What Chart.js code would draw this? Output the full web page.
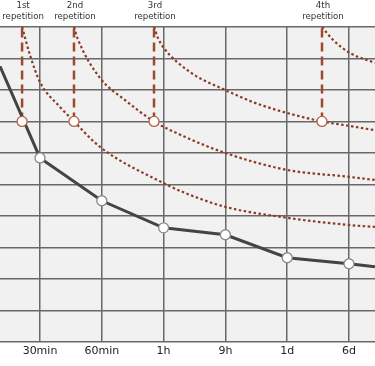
<!DOCTYPE html>
<html>
<head>
<meta charset="utf-8">
<script src="https://cdn.jsdelivr.net/npm/chart.js@4"></script>
<style>
  html, body { margin: 0; padding: 0; background: #fff; }
  #wrap { width: 375px; height: 366px; position: relative; }
</style>
</head>
<body>
<div id="wrap"><canvas id="curve"></canvas></div>
<script>
// time axis labels (one per gridline)
const tickLabels = ['30min', '60min', '1h', '9h', '1d', '6d'];

// repetitions: where they happen on the time axis and at what retention
const repLabels = ['1st', '2nd', '3rd', '4th'];
const repTimes = [0.71, 1.55, 2.845, 5.563];
const repLevel = 70;

// forgetting curve without repetition
const baseX = [0.353, 1, 2, 3, 4, 5, 6, 6.42];
const baseY = [87.5, 58.4, 44.8, 36.2, 34.0, 26.7, 24.8, 23.8];

// curves after each repetition
const rep1X = [0.71, 0.838, 1.0, 1.324, 1.55, 1.971, 2.99, 3.346, 3.994, 4.997, 6.0, 6.42];
const rep1Y = [100, 91.1, 82.5, 74.6, 70, 61.9, 50.5, 47.3, 42.9, 39.4, 37.1, 36.5];
const rep2X = [1.55, 1.615, 1.971, 2.375, 2.845, 3.346, 3.994, 4.997, 6.0, 6.42];
const rep2Y = [100, 96, 83.8, 76.8, 70, 65.1, 60, 54.6, 52.4, 51.4];
const rep3X = [2.845, 2.909, 2.99, 3.427, 3.994, 4.479, 4.997, 5.563, 6.0, 6.42];
const rep3Y = [100, 96.5, 93.7, 85.7, 80, 75.9, 72.7, 70, 68.6, 67.2];
const rep4X = [5.563, 5.741, 6.02, 6.42];
const rep4Y = [100, 95.9, 91.7, 88.6];

const toPts = (xs, ys) => xs.map((x, i) => ({ x: x, y: ys[i] }));

const dotColor = '#8a3b24';
const dashColor = '#9c4a2e';

const datasets = [];

// repetition markers (on top)
datasets.push({
    data: repTimes.map(t => ({ x: t, y: repLevel })),
    showLine: false,
    pointRadius: 5,
    pointBackgroundColor: '#fff',
    pointBorderColor: '#b06048',
    pointBorderWidth: 1.3,
    order: 0
});

// base curve
datasets.push({
    data: toPts(baseX, baseY),
    borderColor: '#444',
    borderWidth: 3,
    pointRadius: baseX.map((x, i) => (i === 0 || i === baseX.length - 1) ? 0 : 5),
    pointBackgroundColor: '#fff',
    pointBorderColor: '#8a8a8a',
    pointBorderWidth: 1.3,
    order: 1
});

// vertical dashed lines at each repetition
repTimes.forEach(t => {
    datasets.push({
        data: [{ x: t, y: repLevel }, { x: t, y: 100 }],
        borderColor: dashColor,
        borderWidth: 2.5,
        borderDash: [9, 5],
        pointRadius: 0,
        order: 2
    });
});

// dotted decay curves
[[rep1X, rep1Y], [rep2X, rep2Y], [rep3X, rep3Y], [rep4X, rep4Y]].forEach(([xs, ys]) => {
    datasets.push({
        data: toPts(xs, ys),
        borderColor: dotColor,
        borderWidth: 2.2,
        borderDash: [2.5, 2.5],
        pointRadius: 0,
        cubicInterpolationMode: 'monotone',
        order: 3
    });
});

const plotBg = {
    id: 'plotBg',
    beforeDraw(chart) {
        const { ctx, chartArea: a } = chart;
        ctx.save();
        ctx.fillStyle = '#f1f1f1';
        ctx.fillRect(a.left, a.top, a.right - a.left, a.bottom - a.top);
        ctx.restore();
    }
};

const repText = {
    id: 'repText',
    afterDraw(chart) {
        const { ctx } = chart;
        const xs = chart.scales.x;
        ctx.save();
        ctx.font = '8.6px "DejaVu Sans"';
        ctx.fillStyle = '#333';
        ctx.textAlign = 'center';
        ctx.textBaseline = 'middle';
        repTimes.forEach((t, i) => {
            const px = xs.getPixelForValue(t) + 1;
            ctx.fillText(repLabels[i], px, 6);
            ctx.fillText('repetition', px, 17);
        });
        ctx.restore();
    }
};

new Chart(document.getElementById('curve').getContext('2d'), {
    type: 'line',
    data: { datasets: datasets },
    options: {
        responsive: true,
        maintainAspectRatio: false,
        animation: false,
        layout: { autoPadding: false, padding: { top: 27, bottom: 5, left: 0, right: 0 } },
        plugins: { legend: { display: false }, tooltip: { enabled: false } },
        scales: {
            x: {
                type: 'linear',
                min: 0.3528,
                max: 6.4207,
                afterBuildTicks: s => { s.ticks = tickLabels.map((_, i) => ({ value: i + 1 })); },
                ticks: {
                    callback: v => tickLabels[v - 1],
                    color: '#222',
                    font: { family: 'DejaVu Sans', size: 11 },
                    padding: 3,
                    maxRotation: 0,
                    autoSkip: false
                },
                grid: { color: '#686868', lineWidth: 1.5, drawTicks: false },
                border: { display: false }
            },
            y: {
                min: 0,
                max: 100,
                ticks: { display: false, stepSize: 10 },
                grid: { color: '#686868', lineWidth: 1.5, drawTicks: false },
                border: { display: false }
            }
        }
    },
    plugins: [plotBg, repText]
});
</script>
</body>
</html>
